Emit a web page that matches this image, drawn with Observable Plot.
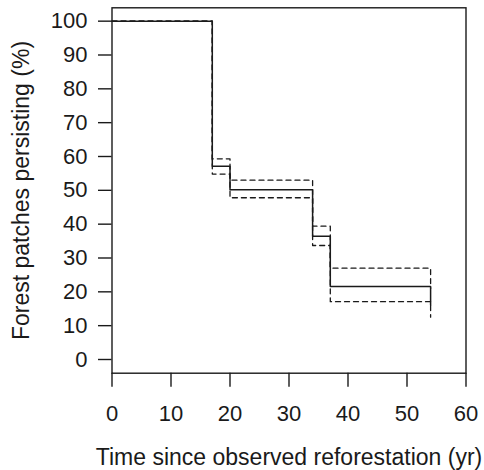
<!DOCTYPE html>
<html>
<head>
<meta charset="utf-8">
<script src="https://cdn.jsdelivr.net/npm/d3@7"></script>
<script src="https://cdn.jsdelivr.net/npm/@observablehq/plot@0.6"></script>
<style>
  html, body { margin: 0; padding: 0; background: #fff; }
  #chart svg { display: block; }
</style>
</head>
<body>
<div id="chart"></div>
<script>
// Kaplan–Meier style step data
const times = [0, 17, 20, 34, 37, 54];
const survival = [100, 57.1, 50.2, 36.4, 21.6, 16];
const upperCI = [100, 59.3, 53.0, 39.4, 27.0, 21];
const lowerCI = [100, 54.8, 47.8, 33.7, 17.1, 12.5];
const xTicks = [0, 10, 20, 30, 40, 50, 60];
const yTicks = [0, 10, 20, 30, 40, 50, 60, 70, 80, 90, 100];

const rows = (vals) => times.map((t, i) => ({t, v: vals[i]}));

const ink = "#1a1a1a";
const chart = Plot.plot({
  width: 484,
  height: 470,
  marginLeft: 111.5,
  marginRight: 18.5,
  marginTop: 7.3,
  marginBottom: 97.3,
  style: {fontFamily: "'Liberation Sans', Arial, sans-serif", fontSize: "22px", color: ink, background: "#fff"},
  x: {domain: [0, 60]},
  y: {domain: [-4.05, 103.95]},
  marks: [
    Plot.frame({stroke: ink, strokeWidth: 1.4}),
    Plot.axisX({ticks: xTicks, tickSize: 14, tickPadding: 18, tickFormat: d => d, stroke: ink, strokeWidth: 1.4, fontSize: 22, label: null}),
    Plot.axisX({ticks: [], tickSize: 0, label: "Time since observed reforestation (yr)", labelAnchor: "center", labelArrow: "none", labelOffset: 92, fontSize: 23}),
    Plot.axisY({ticks: yTicks, tickSize: 13.5, tickPadding: 11, tickFormat: d => d, stroke: ink, strokeWidth: 1.4, fontSize: 22, label: null}),
    Plot.axisY({ticks: [], tickSize: 0, label: "Forest patches persisting (%)", labelAnchor: "center", labelArrow: "none", labelOffset: 99, fontSize: 23}),
    Plot.line(rows(upperCI), {x: "t", y: "v", curve: "step-after", stroke: ink, strokeWidth: 1.3, strokeDasharray: "5,4"}),
    Plot.line(rows(lowerCI), {x: "t", y: "v", curve: "step-after", stroke: ink, strokeWidth: 1.3, strokeDasharray: "5,4"}),
    Plot.line(rows(survival), {x: "t", y: "v", curve: "step-after", stroke: ink, strokeWidth: 1.5})
  ]
});
document.getElementById("chart").appendChild(chart);
</script>
</body>
</html>
